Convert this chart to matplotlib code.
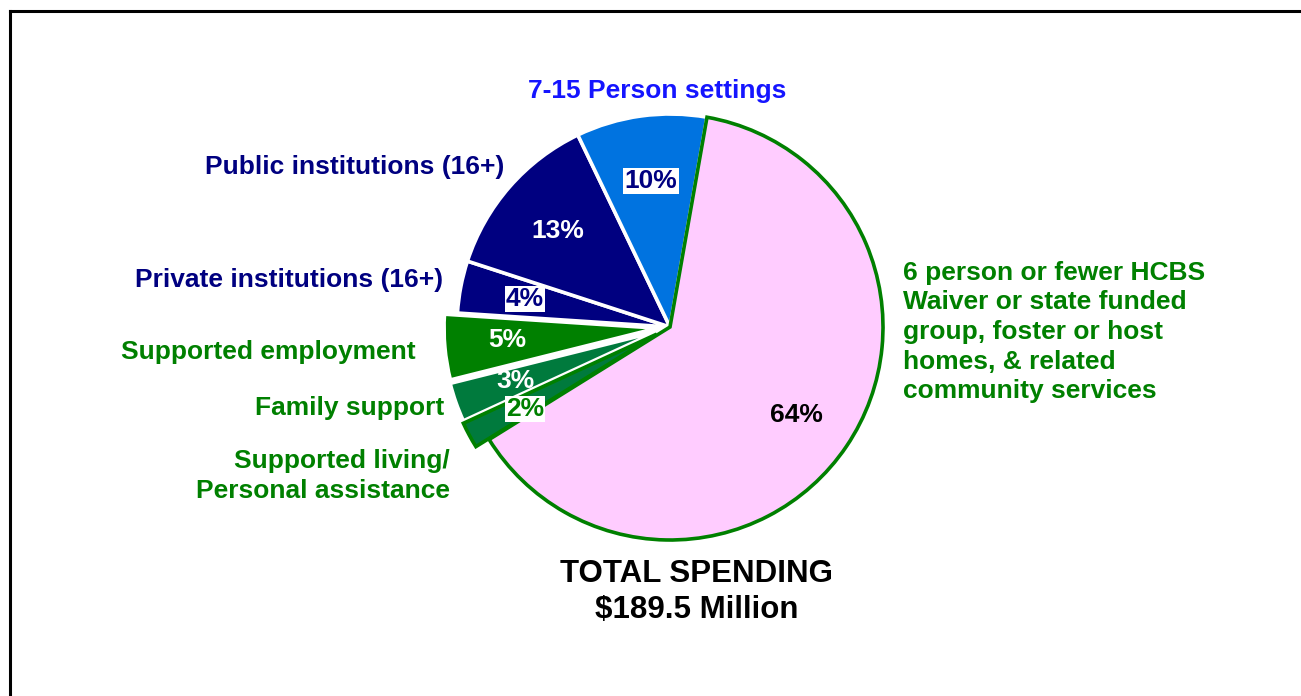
import matplotlib
matplotlib.use("Agg")
import matplotlib.pyplot as plt
from matplotlib.lines import Line2D

plt.rcParams['font.family'] = ['Liberation Sans', 'DejaVu Sans']
plt.rcParams['font.weight'] = 'bold'

# ---- data ----
categories = ["6 person or fewer HCBS\nWaiver or state funded\ngroup, foster or host\nhomes, & related\ncommunity services",
              "Supported living/\nPersonal assistance",
              "Family support",
              "Supported employment",
              "Private institutions (16+)",
              "Public institutions (16+)",
              "7-15 Person settings"]
values = [64, 2, 3, 5, 4, 13, 10]
pct_labels = ["64%", "2%", "3%", "5%", "4%", "13%", "10%"]
total_title = "TOTAL SPENDING\n$189.5 Million"

# ---- styles / layout ----
W, H = 1301, 696
colors = ["#FFCCFF", "#007A3D", "#007A3D", "#008000", "#000080", "#000080", "#0073E0"]
edges = ["#008000", "#008000", "white", "white", "white", "white", "white"]
explode_px = [0, 15, 14, 13, 0, 0, 0]
navy, green, blue = "#000080", "#008000", "#1515FF"

fig = plt.figure(figsize=(W / 100, H / 100), dpi=100)
ax = fig.add_axes([0, 0, 1, 1])

cx, cy, R = 670, H - 327, 213
wedges, _ = ax.pie(values, colors=colors, explode=explode_px, startangle=80,
                   counterclock=False, center=(cx, cy), radius=R, frame=True)
for w, ec in zip(wedges, edges):
    w.set_edgecolor(ec)
    w.set_linewidth(2.6)
    w.set_joinstyle('miter')
wedges[0].set_zorder(3)
wedges[1].set_zorder(2.5)
ax.set_xlim(0, W)
ax.set_ylim(0, H)
ax.set_aspect('equal')
ax.axis('off')

def Y(y):
    return H - y

# percentage labels: (x, y, text colour, boxed)
pct_layout = [(796, 415, "black", False),
              (525, 409, green, True),
              (515, 381, "white", False),
              (507, 340, "white", False),
              (525, 299, navy, True),
              (558, 231, "white", False),
              (651, 181, navy, True)]
for lab, (x, y, c, boxed) in zip(pct_labels, pct_layout):
    kw = {}
    if boxed:
        kw['bbox'] = dict(boxstyle='square,pad=0.05', fc='white', ec='none')
    ax.text(x, Y(y), lab, ha='center', va='center', fontsize=19,
            fontweight='bold', color=c, zorder=6, **kw)

# category labels: (x, y, ha, colour)
cat_layout = [(903, 332, 'left', green),
              (450, 476, 'right', green),
              (444, 408, 'right', green),
              (416, 352, 'right', green),
              (443, 280, 'right', navy),
              (504, 167, 'right', navy),
              (657, 91, 'center', blue)]
for lab, (x, y, ha, c) in zip(categories, cat_layout):
    ax.text(x, Y(y), lab, ha=ha, va='center', multialignment=ha,
            fontsize=19, fontweight='bold', color=c, linespacing=1.3, zorder=6)

ax.text(697, Y(592), total_title, ha='center', va='center', fontsize=22.5,
        fontweight='bold', color='black', linespacing=1.24)

# outer frame (top and left edges visible)
fig.add_artist(Line2D([9.5 / W, 1], [1 - 11 / H, 1 - 11 / H], color='black', lw=2.2,
                      transform=fig.transFigure))
fig.add_artist(Line2D([9.5 / W, 9.5 / W], [0, 1 - 11 / H], color='black', lw=2.2,
                      transform=fig.transFigure))

fig.savefig("out.png", dpi=100, facecolor='white')
